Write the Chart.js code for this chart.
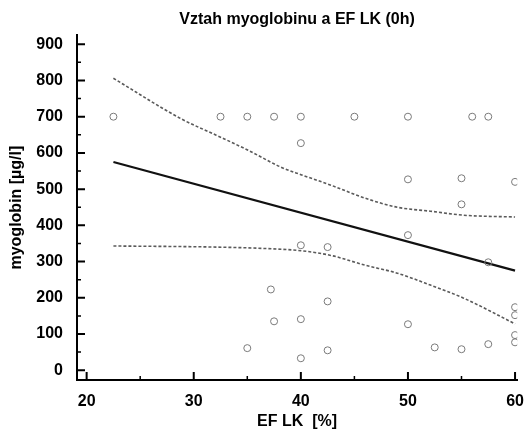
<!DOCTYPE html>
<html>
<head>
<meta charset="utf-8">
<script src="https://cdn.jsdelivr.net/npm/chart.js@4.4.1/dist/chart.umd.min.js"></script>
<style>
  html, body { margin: 0; padding: 0; background: #fff; }
  #wrap { width: 528px; height: 431px; }
</style>
</head>
<body>
<div id="wrap"><canvas id="myoChart" width="528" height="431"></canvas></div>
<script>
// Namerene body (EF LK %, myoglobin ug/l)
const efLK = [22.5, 32.5, 35, 37.5, 40, 45, 50, 56, 57.5,
              40, 50, 55, 60, 55,
              40, 42.5, 50, 57.5,
              37.2, 42.5, 37.5, 40, 50, 60, 60, 60, 60,
              40, 42.5, 52.5, 55, 57.5, 35];
const myoglobin = [700, 700, 700, 700, 700, 700, 700, 700, 700,
                   627, 527, 530, 520, 458,
                   345, 340, 373, 298,
                   223, 190, 135, 141, 127, 174, 152, 97, 77,
                   33, 55, 63, 58, 72, 61];

// Regresni primka
const fitX = [22.5, 60];
const fitY = [575, 275];

// Pas spolehlivosti
const upperX = [22.5, 28.9, 32.1, 35.1, 38.2, 40, 42.8, 46, 49, 52.1, 55.2, 60];
const upperY = [806, 693, 649, 607, 560, 540, 511, 475, 450, 439, 428, 423];
const lowerX = [22.5, 32.1, 36.7, 40, 42.8, 46, 49, 52.1, 55.2, 60];
const lowerY = [343, 340, 336, 330, 317, 290, 268, 235, 199, 128];

const xTicks = [20, 30, 40, 50, 60];
const xMinor = [25, 35, 45, 55];
const yTicks = [0, 100, 200, 300, 400, 500, 600, 700, 800, 900];
const yMinor = [50, 150, 250, 350, 450, 550, 650, 750, 850];

function toPoints(xs, ys) {
    return xs.map((x, i) => ({ x: x, y: ys[i] }));
}

const fontFam = "'Liberation Sans', Arial, sans-serif";

// Tick marks pointing into the plot area
const innerTicks = {
    id: 'innerTicks',
    afterDraw(chart) {
        const ctx = chart.ctx;
        const xs = chart.scales.x, ys = chart.scales.y;
        const left = chart.chartArea.left, bottom = chart.chartArea.bottom;
        ctx.save();
        ctx.strokeStyle = '#000';
        ctx.lineWidth = 2;
        ctx.beginPath();
        xTicks.forEach(v => { const p = xs.getPixelForValue(v); ctx.moveTo(p, bottom); ctx.lineTo(p, bottom - 8); });
        yTicks.forEach(v => { const p = ys.getPixelForValue(v); ctx.moveTo(left, p); ctx.lineTo(left + 8, p); });
        ctx.stroke();
        ctx.lineWidth = 1.5;
        ctx.beginPath();
        xMinor.forEach(v => { const p = xs.getPixelForValue(v); ctx.moveTo(p, bottom); ctx.lineTo(p, bottom - 4); });
        yMinor.forEach(v => { const p = ys.getPixelForValue(v); ctx.moveTo(left, p); ctx.lineTo(left + 4, p); });
        ctx.stroke();
        ctx.restore();
    }
};

const ctx = document.getElementById('myoChart').getContext('2d');
new Chart(ctx, {
    type: 'scatter',
    data: {
        datasets: [{
            label: 'data',
            data: toPoints(efLK, myoglobin),
            pointStyle: 'circle',
            pointRadius: 3.5,
            pointBorderWidth: 1,
            pointBorderColor: '#7a7a7a',
            pointBackgroundColor: 'rgba(255,255,255,0)',
            showLine: false,
            order: 1
        }, {
            label: 'fit',
            data: toPoints(fitX, fitY),
            showLine: true,
            borderColor: '#111',
            borderWidth: 2.2,
            pointRadius: 0,
            order: 2
        }, {
            label: 'upper',
            data: toPoints(upperX, upperY),
            showLine: true,
            borderColor: '#5a5a5a',
            borderWidth: 1.6,
            borderDash: [3, 2],
            cubicInterpolationMode: 'monotone',
            pointRadius: 0,
            order: 3
        }, {
            label: 'lower',
            data: toPoints(lowerX, lowerY),
            showLine: true,
            borderColor: '#5a5a5a',
            borderWidth: 1.6,
            borderDash: [3, 2],
            cubicInterpolationMode: 'monotone',
            pointRadius: 0,
            order: 3
        }]
    },
    options: {
        responsive: false,
        animation: false,
        layout: { padding: { left: 0, right: 8, top: 0, bottom: 0 } },
        plugins: {
            legend: { display: false },
            tooltip: { enabled: false },
            title: {
                display: true,
                fullSize: false,
                text: 'Vztah myoglobinu a EF LK (0h)',
                color: '#000',
                font: { family: fontFam, size: 16, weight: 'bold' },
                padding: { top: 10, bottom: 6 }
            }
        },
        scales: {
            x: {
                type: 'linear',
                min: 19.1,
                max: 60.2,
                afterBuildTicks: s => { s.ticks = xTicks.map(v => ({ value: v })); },
                afterFit: s => { s.height = 51; },
                grid: { display: false },
                border: { display: true, color: '#000', width: 2 },
                ticks: {
                    color: '#000',
                    padding: 4,
                    maxRotation: 0,
                    font: { family: fontFam, size: 16, weight: 'bold' }
                },
                title: {
                    display: true,
                    text: 'EF LK  [%]',
                    color: '#000',
                    font: { family: fontFam, size: 16, weight: 'bold' },
                    padding: { top: 0, bottom: 0 }
                }
            },
            y: {
                type: 'linear',
                min: -27,
                max: 925,
                afterBuildTicks: s => { s.ticks = yTicks.map(v => ({ value: v })); },
                afterFit: s => { s.width = 77; },
                grid: { display: false },
                border: { display: true, color: '#000', width: 2 },
                ticks: {
                    color: '#000',
                    padding: 6,
                    font: { family: fontFam, size: 16, weight: 'bold' }
                },
                title: {
                    display: true,
                    text: 'myoglobin [µg/l]',
                    color: '#000',
                    font: { family: fontFam, size: 16, weight: 'bold' },
                    padding: { top: 7, bottom: 0 }
                }
            }
        }
    },
    plugins: [innerTicks]
});
</script>
</body>
</html>
